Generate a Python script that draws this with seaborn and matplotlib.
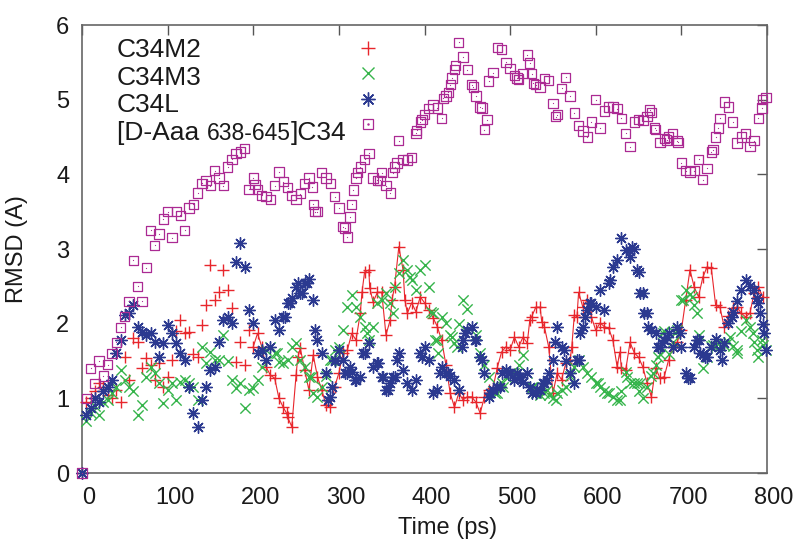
import matplotlib
matplotlib.use("Agg")
import matplotlib.pyplot as plt
import matplotlib.transforms as mtransforms
from matplotlib.lines import Line2D
import numpy as np
import pandas as pd
import seaborn as sns

# ---------------- data ----------------
time_ps = list(range(0, 800, 5))

c34m2 = [
    0.0, 0.95, 1.0, 1.1, 1.2, 1.15, 1.05, 1.0, 1.11, 0.95,
    1.55, 1.25, 1.81, 1.75, 1.41, 1.54, 1.45, 1.25, 1.47, 1.15,
    1.29, 1.51, 1.9, 2.05, 1.87, 1.89, 1.6, 1.55, 1.98, 2.25,
    2.79, 2.32, 2.42, 2.72, 2.45, 2.21, 1.49, 1.75, 1.45, 1.91,
    1.69, 1.87, 1.69, 1.42, 1.31, 1.27, 1.0, 0.88, 0.75, 0.62,
    1.31, 1.67, 1.38, 1.11, 1.58, 1.29, 1.11, 0.91, 0.88, 1.15,
    1.34, 1.61, 1.65, 1.87, 1.78, 2.14, 2.69, 2.72, 2.29, 2.42,
    2.42, 1.85, 2.05, 2.49, 3.03, 2.72, 2.14, 2.28, 2.16, 2.36,
    2.28, 2.18, 2.08, 1.96, 1.78, 1.45, 1.07, 0.88, 1.07, 0.98,
    1.02, 1.02, 0.95, 0.8, 1.02, 1.11, 1.14, 1.41, 1.62, 1.69,
    1.65, 1.82, 1.69, 1.82, 1.74, 2.09, 2.22, 2.22, 1.96, 1.69,
    1.07, 1.34, 1.25, 1.47, 1.51, 2.12, 2.42, 2.22, 2.32, 2.09,
    1.91, 2.01, 1.96, 1.94, 1.78, 1.42, 1.41, 1.38, 1.75, 1.61,
    1.55, 1.42, 1.2, 1.02, 1.41, 1.27, 1.29, 1.51, 1.69, 1.75,
    1.91, 2.32, 2.72, 2.49, 2.36, 2.62, 2.76, 2.74, 2.25, 2.22,
    1.96, 2.1, 2.21, 2.22, 2.14, 2.09, 2.14, 2.41, 2.49, 2.36,
]

c34m3 = [
    0.0, 0.7, 0.8, 0.9, 0.78, 0.95, 0.98, 1.07, 1.15, 1.38,
    1.25, 1.15, 1.1, 0.78, 0.91, 1.29, 1.42, 1.34, 1.2, 0.94,
    1.11, 1.2, 0.98, 1.22, 1.25, 1.2, 1.15, 0.98, 1.69, 1.47,
    1.62, 1.51, 1.51, 1.85, 1.5, 1.25, 1.14, 1.2, 0.87, 1.11,
    1.14, 1.25, 1.42, 1.65, 1.69, 1.61, 1.49, 1.47, 1.51, 1.69,
    1.74, 1.51, 1.42, 1.29, 1.07, 1.02, 1.15, 1.3, 1.51, 1.65,
    1.69, 1.91, 2.22, 2.38, 2.22, 2.09, 1.96, 1.78, 1.96, 2.28,
    2.32, 2.41, 2.28, 2.49, 2.68, 2.85, 2.72, 2.58, 2.45, 2.72,
    2.79, 2.49, 2.14, 1.78, 2.09, 2.01, 1.85, 1.74, 2.0, 2.32,
    2.2, 1.95, 1.85, 1.61, 1.45, 1.29, 1.1, 1.07, 1.2, 1.29,
    1.34, 1.34, 1.45, 1.58, 1.34, 1.15, 1.07, 1.05, 1.07, 1.05,
    1.0, 1.07, 1.11, 1.15, 1.3, 1.42, 1.51, 1.42, 1.34, 1.29,
    1.2, 1.15, 1.1, 1.07, 1.02, 0.98, 1.1, 1.35, 1.2, 1.2,
    1.1, 1.0, 1.15, 1.3, 1.45, 1.6, 1.9, 1.6, 1.75, 1.91,
    2.32, 2.45, 2.4, 2.25, 1.85, 1.4, 1.55, 1.7, 1.7, 1.7,
    1.72, 1.75, 1.7, 1.65, 1.9, 2.05, 1.96, 1.75, 1.55, 1.72,
]

c34l = [
    0.0, 0.78, 0.87, 1.0, 0.95, 1.1, 1.15, 1.25, 1.61, 1.78,
    2.12, 2.14, 2.25, 1.96, 1.89, 1.85, 1.87, 1.75, 1.55, 1.74,
    1.98, 1.87, 1.74, 1.61, 1.51, 1.15, 0.8, 0.62, 0.98, 1.15,
    1.38, 1.42, 1.75, 2.05, 2.09, 2.01, 2.83, 3.08, 2.76, 2.18,
    2.01, 1.61, 1.65, 1.51, 1.69, 2.05, 1.91, 2.09, 2.28, 2.35,
    2.49, 2.41, 2.54, 2.6, 2.32, 1.78, 1.61, 1.34, 1.02, 1.5,
    1.65, 1.51, 1.34, 1.35, 1.25, 1.29, 1.61, 1.74, 1.42, 1.47,
    1.29, 1.11, 1.2, 1.29, 1.61, 1.38, 1.2, 1.11, 1.25, 1.61,
    1.69, 1.51, 1.07, 1.11, 1.42, 1.34, 1.3, 1.25, 1.11, 1.78,
    1.91, 1.96, 1.78, 1.55, 1.34, 1.02, 1.11, 1.15, 1.34, 1.38,
    1.34, 1.25, 1.29, 1.22, 1.34, 1.07, 1.07, 1.11, 1.2, 1.34,
    1.51, 1.96, 1.69, 1.5, 1.34, 1.2, 1.51, 1.96, 2.18, 2.28,
    2.22, 2.45, 2.18, 2.54, 2.76, 2.85, 3.15, 2.99, 2.89, 3.0,
    2.69, 2.41, 2.14, 1.91, 1.87, 1.69, 1.78, 1.87, 1.69, 1.96,
    1.69, 1.34, 1.27, 1.69, 1.78, 1.6, 1.55, 1.69, 1.8, 1.65,
    1.74, 2.01, 2.15, 2.3, 2.45, 2.58, 2.5, 2.45, 2.28, 2.0,
]

daaa_c34 = [
    0.0, 1.0, 1.4, 1.2, 1.5, 1.3, 1.45, 1.6, 1.75, 1.95,
    2.1, 2.3, 2.85, 2.5, 2.3, 2.75, 3.25, 3.05, 3.2, 3.4,
    3.5, 3.15, 3.5, 3.45, 3.25, 3.55, 3.6, 3.75, 3.88, 3.92,
    3.85, 4.05, 3.95, 3.85, 4.1, 4.2, 4.28, 4.3, 4.35, 3.8,
    3.95, 3.8, 3.72, 3.7, 3.66, 3.85, 4.03, 3.9, 3.82, 3.72,
    3.66, 3.74, 3.88, 3.95, 3.6, 3.5, 4.02, 3.95, 3.88, 3.7,
    3.55, 3.3, 3.16, 3.6, 3.95, 4.1, 4.2, 4.28, 3.95, 3.92,
    4.02, 3.85, 3.75, 4.1, 4.45, 4.2, 4.19, 4.23, 4.55, 4.7,
    4.8, 4.88, 4.93, 4.89, 4.75, 5.05, 5.2, 5.4, 5.77, 5.57,
    5.4, 5.2, 5.05, 4.9, 4.6, 5.25, 5.36, 5.7, 5.67, 5.5,
    5.42, 5.32, 5.27, 5.35, 5.6, 5.35, 5.2, 5.17, 5.28, 5.26,
    4.95, 4.8, 5.15, 5.3, 5.05, 4.82, 4.65, 4.58, 4.5, 4.7,
    5.0, 4.62, 4.85, 4.9, 4.9, 4.88, 4.75, 4.55, 4.37, 4.7,
    4.73, 4.72, 4.77, 4.83, 4.6, 4.43, 4.48, 4.5, 4.55, 4.45,
    4.15, 4.05, 4.03, 4.05, 4.2, 3.93, 4.08, 4.3, 4.5, 4.75,
    4.97, 4.9, 4.7, 4.42, 4.5, 4.55, 4.37, 4.45, 4.75, 5.0,
]

# additional readings taken off the picture between the 5 ps grid points
c34m2_extra_t = [239, 252, 327, 336, 362, 377, 523, 537, 572, 578, 628]
c34m2_extra_v = [0.8, 1.55, 2.42, 2.48, 2.32, 2.32, 2.05, 2.02, 1.69, 2.09, 1.62]

c34m3_extra_t = [228, 268, 292, 333, 363, 383, 408, 412, 416, 432, 438, 482,
                 492, 527, 543, 553, 603, 613, 628, 636, 648, 652, 667, 673,
                 679, 693, 702, 712, 718, 737, 757, 765, 784, 788, 794, 799]
c34m3_extra_v = [1.61, 1.29, 1.51, 1.87, 2.14, 2.62, 2.16, 1.78, 1.61, 1.82,
                 1.69, 1.07, 1.15, 1.15, 1.11, 0.98, 1.2, 1.07, 0.98, 1.29,
                 1.2, 1.2, 1.34, 1.55, 1.87, 1.87, 2.32, 2.36, 2.14, 1.72,
                 1.82, 1.61, 1.87, 1.65, 1.78, 1.65]

c34l_extra_t = [237, 243, 252, 257, 263, 272, 287, 292, 296, 307, 313, 319,
                328, 346, 352, 357, 363, 368, 397, 418, 428, 444, 447, 459,
                467, 477, 488, 498, 508, 512, 523, 531, 538, 543, 552, 563,
                578, 582, 587, 593, 617, 642, 648, 652, 656, 661, 673, 677,
                683, 698, 708, 718, 722, 728, 747, 759, 788, 792, 796, 799]
c34l_extra_v = [2.09, 2.28, 2.54, 2.41, 2.54, 1.91, 0.98, 1.15, 1.51, 1.34,
                1.42, 1.25, 1.61, 1.47, 1.29, 1.11, 1.29, 1.51, 1.55, 1.34,
                1.34, 1.69, 1.87, 1.78, 1.51, 1.07, 1.15, 1.34, 1.34, 1.29,
                1.15, 1.11, 1.2, 1.25, 1.75, 1.65, 1.51, 1.87, 2.09, 2.28,
                2.58, 3.03, 2.72, 2.41, 2.14, 1.96, 1.69, 1.74, 1.82, 1.87,
                1.27, 1.78, 1.61, 1.55, 1.51, 2.09, 2.35, 2.14, 1.87, 1.65]

daaa_extra_t = [202, 269, 272, 307, 313, 317, 322, 348, 363, 368, 391, 397,
                422, 428, 432, 436, 457, 467, 473, 508, 523, 527, 553, 663,
                669, 683, 696, 737, 743, 794, 799]
daaa_extra_v = [3.86, 3.83, 3.5, 3.28, 3.43, 3.79, 4.02, 3.92, 4.02, 4.15,
                4.59, 4.73, 5.02, 5.1, 5.29, 5.46, 5.17, 4.89, 4.73, 5.29,
                5.49, 5.22, 4.77, 4.86, 4.62, 4.46, 4.43, 4.33, 4.62, 4.89,
                5.03]

series_names = ["C34M2", "C34M3", "C34L", "[D-Aaa 638-645]C34"]
x_ticks = [0, 100, 200, 300, 400, 500, 600, 700, 800]
y_ticks = [0, 1, 2, 3, 4, 5, 6]


def series_frame(grid_v, extra_t, extra_v):
    d = pd.DataFrame({"time": list(time_ps) + list(extra_t),
                      "rmsd": list(grid_v) + list(extra_v)})
    return d.sort_values("time").reset_index(drop=True)


df_m2 = series_frame(c34m2, c34m2_extra_t, c34m2_extra_v)
df_m3 = series_frame(c34m3, c34m3_extra_t, c34m3_extra_v)
df_l = series_frame(c34l, c34l_extra_t, c34l_extra_v)
df_d = series_frame(daaa_c34, daaa_extra_t, daaa_extra_v)

# ---------------- style ----------------
sns.set_theme(style="white")
plt.rcParams["font.family"] = ["Liberation Sans", "DejaVu Sans"]

RED = "#e8262c"
GREEN = "#35b44a"
BLUE = "#2b3990"
MAG = "#ab2a93"
ASTER = (8, 2, 0)

fig = plt.figure(figsize=(8.04, 5.47), dpi=100)
ax = fig.add_axes([82 / 804, 1 - 473 / 547, 685 / 804, 448 / 547])

# red connecting line (dense part of the run)
dense = df_m2[df_m2["time"] >= 200]
sns.lineplot(data=dense, x="time", y="rmsd", color=RED, linewidth=0.8,
             estimator=None, sort=False, ax=ax, zorder=2)

sns.scatterplot(data=df_m2, x="time", y="rmsd", marker="+", color=RED, s=70,
                linewidth=1.0, ax=ax, zorder=3, clip_on=False)
sns.scatterplot(data=df_m3, x="time", y="rmsd", marker="x", color=GREEN, s=55,
                linewidth=1.0, ax=ax, zorder=3, clip_on=False)
sns.scatterplot(data=df_l, x="time", y="rmsd", marker=ASTER, color=BLUE, s=70,
                linewidth=1.0, ax=ax, zorder=3, clip_on=False)
sns.scatterplot(data=df_d, x="time", y="rmsd", marker="s", color=MAG, s=45,
                linewidth=0.9, ax=ax, zorder=4, clip_on=False)
sq = ax.collections[-1]
sq.set_facecolor("none")
sq.set_edgecolor(MAG)
sns.scatterplot(data=df_d, x="time", y="rmsd", marker=".", color=MAG, s=3,
                linewidth=0, ax=ax, zorder=4, clip_on=False)

ax.set_xlim(0, 800)
ax.set_ylim(0, 6)
ax.set_xticks(x_ticks)
ax.set_yticks(y_ticks)
ax.set_xticklabels([str(v) for v in x_ticks])
ax.set_yticklabels([str(v) for v in y_ticks])

for sp in ax.spines.values():
    sp.set_visible(True)
    sp.set_color("#666666")
    sp.set_linewidth(1.2)

ax.tick_params(axis="both", direction="in", length=7, width=1.0,
               color="#555555", top=True, right=True, labelsize=17,
               labelcolor="#1a1a1a")
ax.tick_params(axis="x", pad=10)
ax.tick_params(axis="y", pad=9)

shift = mtransforms.ScaledTranslation(7 / 100, 0, fig.dpi_scale_trans)
for lab in ax.get_xticklabels():
    lab.set_transform(lab.get_transform() + shift)

ax.set_xlabel("Time (ps)", fontsize=17, color="#1a1a1a", va="center")
ax.xaxis.set_label_coords(0.533, -0.122)
ax.set_ylabel("RMSD (A)", fontsize=17, color="#1a1a1a", va="center")
ax.yaxis.set_label_coords(-0.095, 0.5)

# ---------------- legend (text column + marker column) ----------------
row_y = [0.944, 0.882, 0.822, 0.760]
tx = 0.051
lab_kw = dict(transform=ax.transAxes, fontsize=19, color="#1a1a1a",
              va="center", ha="left")
for name, yy in zip(series_names[:3], row_y[:3]):
    ax.text(tx, yy, name, **lab_kw)
t1 = ax.text(tx, row_y[3], "[D-Aaa ", **lab_kw)
t2 = ax.annotate("638-645", xy=(1, 0), xycoords=t1, va="bottom", ha="left",
                 fontsize=16.5, color="#1a1a1a")
ax.annotate("]C34", xy=(1, 0), xycoords=t2, va="bottom", ha="left",
            fontsize=19, color="#1a1a1a")

handles = [
    Line2D([], [], ls="", marker="+", color=RED, ms=10, mew=1.0),
    Line2D([], [], ls="", marker="x", color=GREEN, ms=9, mew=1.0),
    Line2D([], [], ls="", marker=ASTER, color=BLUE, ms=10, mew=1.0),
    (Line2D([], [], ls="", marker="s", mfc="none", mec=MAG, ms=7.5, mew=0.9),
     Line2D([], [], ls="", marker=".", color=MAG, ms=1.5)),
]
leg = ax.legend(handles, [" "] * 4, loc="upper left",
                bbox_to_anchor=(0.407, 0.962), frameon=False, fontsize=10,
                labelspacing=0.81, handlelength=1.0, handletextpad=0.0,
                borderpad=0.0, borderaxespad=0.0)

fig.savefig("out.png", dpi=100)
